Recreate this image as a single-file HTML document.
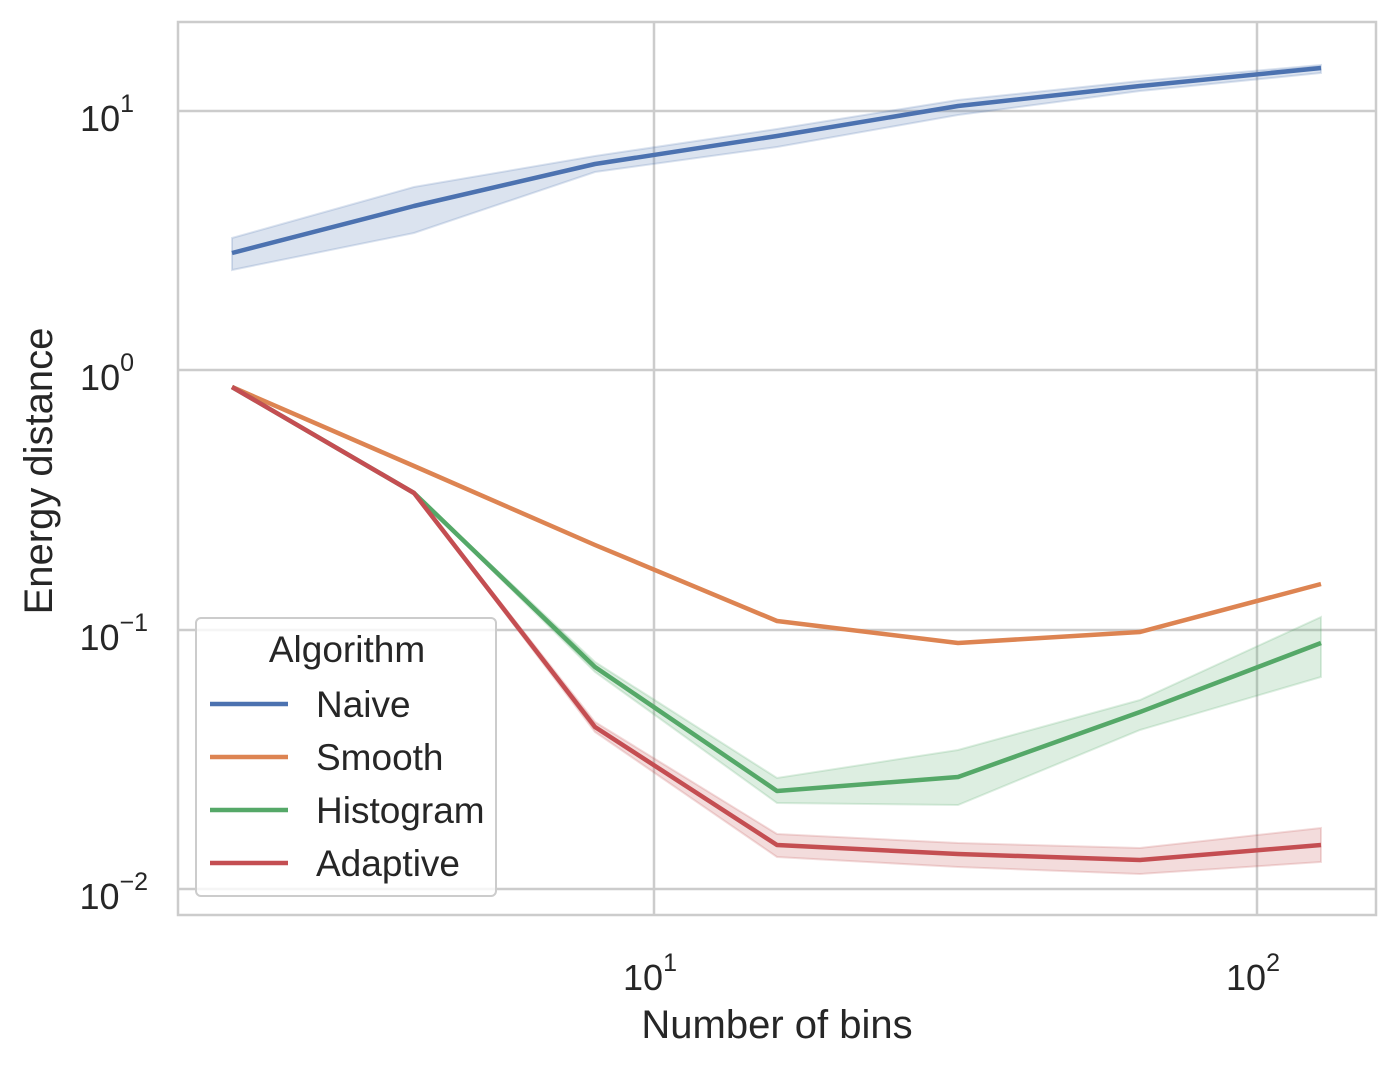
<!DOCTYPE html><html><head><style>body{margin:0;background:#fff}</style></head><body>
<svg width="1400" height="1070" xmlns="http://www.w3.org/2000/svg" font-family="Liberation Sans, sans-serif" fill="#262626">
<rect width="1400" height="1070" fill="#fff"/>
<g stroke="#cccccc" stroke-width="2.5">
<line x1="654" y1="22" x2="654" y2="915"/><line x1="1257" y1="22" x2="1257" y2="915"/>
<line x1="178" y1="111" x2="1376" y2="111"/><line x1="178" y1="370" x2="1376" y2="370"/>
<line x1="178" y1="630" x2="1376" y2="630"/><line x1="178" y1="889" x2="1376" y2="889"/>
<rect x="178" y="22" width="1198" height="893" fill="none"/>
</g>
<polygon fill="#4c72b0" fill-opacity="0.2" stroke="#4c72b0" stroke-opacity="0.2" stroke-width="2" points="232,238 414,187 595,156 777,129 958,100 1140,81 1321,65 1321,73 1140,91 958,115 777,147 595,172 414,233 232,270"/>
<polygon fill="#55a868" fill-opacity="0.2" stroke="#55a868" stroke-opacity="0.2" stroke-width="2" points="414,493 595,662 777,778 958,750 1140,700 1321,617 1321,677 1140,730 958,805 777,803 595,672"/>
<polygon fill="#c44e52" fill-opacity="0.2" stroke="#c44e52" stroke-opacity="0.2" stroke-width="2" points="414,493 595,722 777,834 958,843 1140,848 1321,828 1321,862 1140,874 958,867 777,857 595,732"/>
<g fill="none" stroke-width="4.5" stroke-linejoin="round">
<polyline stroke="#4c72b0" points="232,253 414,206 595,164 777,136 958,106 1140,86 1321,68"/>
<polyline stroke="#dd8452" points="232,387 414,466 595,545 777,621 958,643 1140,632 1321,584"/>
<polyline stroke="#55a868" points="232,387 414,493 595,667 777,791 958,777 1140,712 1321,643"/>
<polyline stroke="#c44e52" points="232,387 414,493 595,727 777,845 958,854 1140,860 1321,845"/>
</g>
<g font-size="36" text-anchor="end">
<text x="134" y="131">10<tspan font-size="25" dy="-19">1</tspan></text>
<text x="134" y="390">10<tspan font-size="25" dy="-19">0</tspan></text>
<text x="148" y="650">10<tspan font-size="25" dy="-19">−1</tspan></text>
<text x="148" y="909">10<tspan font-size="25" dy="-19">−2</tspan></text>
</g>
<g font-size="36" text-anchor="middle">
<text x="650" y="990">10<tspan font-size="25" dy="-19">1</tspan></text>
<text x="1253" y="990">10<tspan font-size="25" dy="-19">2</tspan></text>
<text x="777" y="1038" font-size="40">Number of bins</text>
<text transform="translate(52,471) rotate(-90)" font-size="40">Energy distance</text>
</g>
<rect x="196" y="618" width="300" height="278" rx="5" fill="#fff" fill-opacity="0.8" stroke="#cccccc" stroke-width="2"/>
<text x="347" y="662" font-size="37" text-anchor="middle">Algorithm</text>
<g stroke-width="4.5"><line x1="210" y1="704" x2="288" y2="704" stroke="#4c72b0"/><line x1="210" y1="757" x2="288" y2="757" stroke="#dd8452"/><line x1="210" y1="810" x2="288" y2="810" stroke="#55a868"/><line x1="210" y1="863" x2="288" y2="863" stroke="#c44e52"/></g>
<g font-size="37"><text x="316" y="717">Naive</text><text x="316" y="770">Smooth</text><text x="316" y="823">Histogram</text><text x="316" y="876">Adaptive</text></g>
</svg></body></html>
